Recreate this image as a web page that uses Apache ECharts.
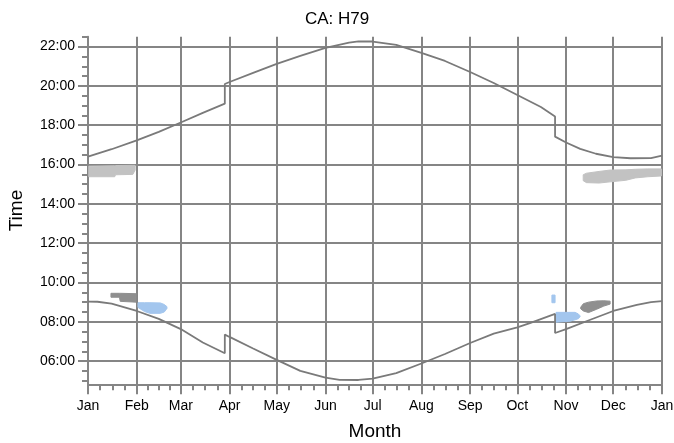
<!DOCTYPE html>
<html><head><meta charset="utf-8">
<script src="https://cdn.jsdelivr.net/npm/echarts@6/dist/echarts.min.js"></script>
<style>html,body{margin:0;padding:0;background:#fff}#c{width:674px;height:443px}</style>
</head><body><div id="c"></div>
<script>
// ---- axis data ----
const monthStarts = [0, 31, 59, 90, 120, 151, 181, 212, 243, 273, 304, 334, 365];
const monthLabels = ['Jan','Feb','Mar','Apr','May','Jun','Jul','Aug','Sep','Oct','Nov','Dec','Jan'];
const hourTicks = [6, 8, 10, 12, 14, 16, 18, 20, 22];

// ---- sunset curve (day of year, hours) ----
const sunsetDays  = [0, 15, 31, 45, 59, 73, 87, 87, 90, 105, 120, 135, 151, 166, 172, 181, 196, 212, 227, 243, 258, 273, 288, 297, 297, 304, 313, 323, 334, 345, 358, 365];
const sunsetHours = [16.4, 16.78, 17.23, 17.66, 18.14, 18.63, 19.1, 20.1, 20.2, 20.66, 21.12, 21.53, 21.94, 22.2, 22.27, 22.26, 22.09, 21.68, 21.27, 20.71, 20.15, 19.54, 18.93, 18.45, 17.42, 17.12, 16.8, 16.55, 16.38, 16.32, 16.33, 16.45];

// ---- sunrise curve ----
const sunriseDays  = [0, 6, 15, 31, 45, 59, 73, 87, 87, 90, 105, 120, 135, 151, 160, 172, 181, 196, 212, 227, 243, 258, 273, 281, 297, 297, 304, 319, 334, 349, 358, 365];
const sunriseHours = [9.03, 9.02, 8.92, 8.55, 8.15, 7.63, 6.95, 6.4, 7.35, 7.23, 6.64, 6.06, 5.5, 5.16, 5.05, 5.04, 5.11, 5.39, 5.88, 6.36, 6.92, 7.4, 7.72, 7.93, 8.4, 7.43, 7.63, 8.09, 8.55, 8.86, 9.0, 9.05];

// ---- shaded periods ----
const p1Days  = [0.5, 17, 17.5, 28.5, 30];
const p1Upper = [15.92, 15.94, 15.95, 15.96, 15.96];
const p1Lower = [15.38, 15.38, 15.48, 15.5, 15.72];

const p2Days  = [14.6, 20, 20.5, 30.5];
const p2Upper = [9.45, 9.45, 9.45, 9.43];
const p2Lower = [9.25, 9.25, 9.04, 9.0];

const p3Days  = [31.8, 36, 39.4, 46, 48.5, 50.2];
const p3Upper = [8.97, 8.97, 8.97, 8.96, 8.88, 8.77];
const p3Lower = [8.73, 8.52, 8.43, 8.43, 8.5, 8.68];

const p4Days  = [314.9, 317, 325, 332, 342, 348, 356, 364.6];
const p4Upper = [15.48, 15.56, 15.65, 15.72, 15.73, 15.76, 15.78, 15.78];
const p4Lower = [15.18, 15.08, 15.06, 15.12, 15.2, 15.32, 15.38, 15.42];

const p5Days  = [313.3, 315, 318.3, 323.5, 328, 332];
const p5Upper = [8.74, 8.92, 9.0, 9.06, 9.07, 9.05];
const p5Lower = [8.66, 8.55, 8.47, 8.64, 8.8, 8.9];

const p6Days  = [297.6, 306.5, 309.7, 311.8, 312.9];
const p6Upper = [8.48, 8.48, 8.48, 8.4, 8.3];
const p6Lower = [7.98, 8.03, 8.1, 8.16, 8.26];

const p7Days  = [295, 297];
const p7Upper = [9.36, 9.36];
const p7Lower = [8.97, 8.97];

const LIGHT = '#c2c2c2', DARK = '#8f8f8f', BLUE = '#a3c6ee';
const patches = [
  {d: p1Days, u: p1Upper, l: p1Lower, c: LIGHT},
  {d: p2Days, u: p2Upper, l: p2Lower, c: DARK},
  {d: p3Days, u: p3Upper, l: p3Lower, c: BLUE},
  {d: p4Days, u: p4Upper, l: p4Lower, c: LIGHT},
  {d: p5Days, u: p5Upper, l: p5Lower, c: DARK},
  {d: p6Days, u: p6Upper, l: p6Lower, c: BLUE},
  {d: p7Days, u: p7Upper, l: p7Lower, c: BLUE}
];

// minor tick positions (4 divisions per month, every half hour)
const minorDays = [];
for (let i = 0; i < monthStarts.length - 1; i++) {
  const a = monthStarts[i], b = monthStarts[i + 1];
  for (let k = 1; k < 4; k++) minorDays.push(a + (b - a) * k / 4);
}
const minorHours = [];
for (let h = 5; h <= 22.5; h += 0.5) if (h % 2 !== 0) minorHours.push(h);

const GRID = '#858585';
const FONT = 'Liberation Sans';
const pad = n => (n < 10 ? '0' : '') + n;

const chart = echarts.init(document.getElementById('c'), null, {renderer: 'canvas'});
chart.setOption({
  animation: false,
  backgroundColor: '#fff',
  textStyle: {fontFamily: FONT},
  title: {
    text: 'CA: H79', left: 'center', top: 6,
    textStyle: {fontSize: 17, fontWeight: 'normal', color: '#000', fontFamily: FONT}
  },
  grid: {left: 88, right: 12, top: 36.8, bottom: 58.7, containLabel: false, outerBoundsMode: 'none'},
  xAxis: [{
    type: 'value', min: 0, max: 365, position: 'bottom',
    name: 'Month', nameLocation: 'middle', nameGap: 38,
    nameTextStyle: {fontSize: 19, color: '#000', fontFamily: FONT},
    axisLine: {show: true, lineStyle: {color: GRID, width: 2}},
    axisTick: {show: true, customValues: monthStarts, length: 10, lineStyle: {color: GRID, width: 2}},
    axisLabel: {customValues: monthStarts, formatter: v => monthLabels[monthStarts.indexOf(v)],
      margin: 15, fontSize: 14, color: '#000', fontFamily: FONT},
    splitLine: {show: true, lineStyle: {color: GRID, width: 2}}
  }, {
    type: 'value', min: 0, max: 365, position: 'bottom',
    axisLine: {show: false},
    axisTick: {show: true, customValues: minorDays, length: 6, lineStyle: {color: GRID, width: 2}},
    axisLabel: {show: false},
    splitLine: {show: false}
  }],
  yAxis: [{
    type: 'value', min: 4.82, max: 22.5, position: 'left',
    name: 'Time', nameLocation: 'middle', nameGap: 62, nameRotate: 90,
    nameTextStyle: {fontSize: 19, color: '#000', fontFamily: FONT},
    axisLine: {show: true, lineStyle: {color: GRID, width: 2}},
    axisTick: {show: true, customValues: hourTicks, length: 10, lineStyle: {color: GRID, width: 2}},
    axisLabel: {customValues: hourTicks, formatter: v => pad(Math.round(v)) + ':00',
      margin: 13, fontSize: 14, color: '#000', fontFamily: FONT},
    splitLine: {show: true, lineStyle: {color: GRID, width: 2}}
  }, {
    type: 'value', min: 4.82, max: 22.5, position: 'left',
    axisLine: {show: false},
    axisTick: {show: true, customValues: minorHours, length: 6, lineStyle: {color: GRID, width: 2}},
    axisLabel: {show: false},
    splitLine: {show: false}
  }],
  series: [{
    type: 'custom', xAxisIndex: 0, yAxisIndex: 0, z: 2,
    data: patches.map((p, i) => [p.d[0], p.u[0], i]),
    encode: {x: 0, y: 1},
    renderItem: function (params, api) {
      const p = patches[api.value(2)];
      const pts = [];
      for (let i = 0; i < p.d.length; i++) pts.push(api.coord([p.d[i], p.u[i]]));
      for (let i = p.d.length - 1; i >= 0; i--) pts.push(api.coord([p.d[i], p.l[i]]));
      return {type: 'polygon', shape: {points: pts}, style: {fill: p.c, stroke: p.c, lineWidth: 1}};
    }
  }, {
    type: 'line', xAxisIndex: 0, yAxisIndex: 0, z: 3,
    data: sunsetDays.map((d, i) => [d, sunsetHours[i]]),
    showSymbol: false, symbol: 'none',
    lineStyle: {color: '#7a7a7a', width: 1.8}
  }, {
    type: 'line', xAxisIndex: 0, yAxisIndex: 0, z: 3,
    data: sunriseDays.map((d, i) => [d, sunriseHours[i]]),
    showSymbol: false, symbol: 'none',
    lineStyle: {color: '#7a7a7a', width: 1.8}
  }]
});
</script>
</body></html>
